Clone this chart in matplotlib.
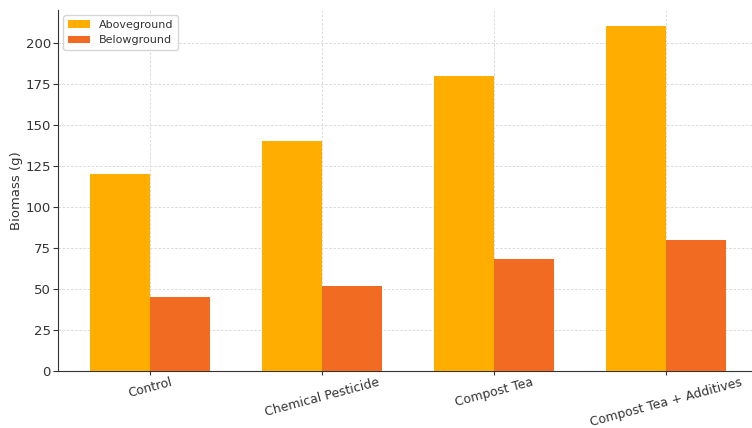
import numpy as np
from matplotlib import pyplot as plt

treatments = ['Control', 'Chemical Pesticide', 'Compost Tea', 'Compost Tea + Additives']
aboveground = [120, 140, 180, 210]
belowground = [45, 52, 68, 80]

fig = plt.figure(figsize=(7.52, 4.28), dpi=100)
ax = fig.add_axes([0.077, 0.133, 0.923, 0.844])

x = np.arange(len(treatments))
width = 0.35
ax.bar(x - width / 2, aboveground, width, color='#FFAE00', label='Aboveground', zorder=3)
ax.bar(x + width / 2, belowground, width, color='#F26B22', label='Belowground', zorder=3)

ax.set_xticks(x)
ax.set_xticklabels(treatments, rotation=15, ha='center', fontsize=9, color='#333333')
ax.set_ylabel('Biomass (g)', fontsize=9.5, color='#333333', labelpad=2)
ax.set_xlim(-0.535, 3.5)
ax.set_ylim(0, 220)
ax.set_yticks(range(0, 201, 25))
ax.tick_params(axis='y', labelsize=9.5, colors='#333333', length=3.5, pad=1.5)
ax.tick_params(axis='x', colors='#333333', length=3, pad=0.5)
ax.grid(True, linestyle=(0, (3, 2)), color='#d4d4d4', linewidth=0.6, zorder=0)
for s in ['top', 'right']:
    ax.spines[s].set_visible(False)
for s in ['left', 'bottom']:
    ax.spines[s].set_color('#333333')

leg = ax.legend(loc='upper left', fontsize=8)
for t in leg.get_texts():
    t.set_color('#333333')

plt.savefig('out.png', dpi=100)
